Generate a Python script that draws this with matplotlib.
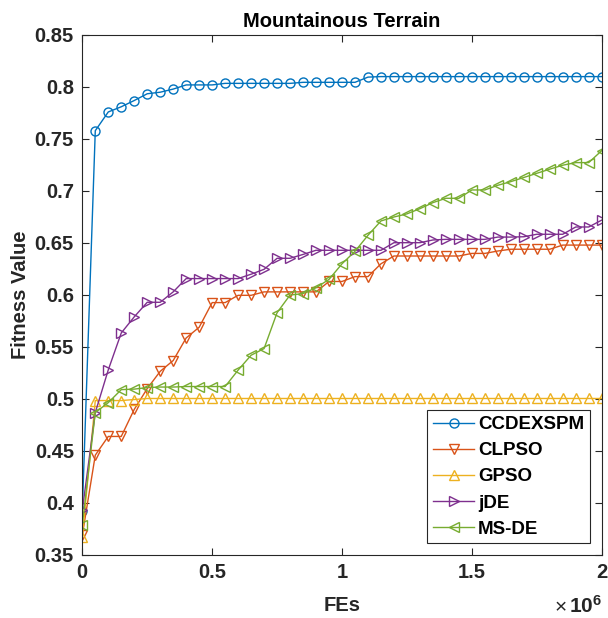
import numpy as np
import matplotlib
matplotlib.use("Agg")
import matplotlib.pyplot as plt
from matplotlib.ticker import FixedLocator, FixedFormatter

plt.rcParams['font.family'] = ['Liberation Sans', 'DejaVu Sans']
plt.rcParams['font.weight'] = 'bold'
plt.rcParams['mathtext.fontset'] = 'custom'
plt.rcParams['mathtext.rm'] = 'Liberation Sans'
plt.rcParams['mathtext.bf'] = 'Liberation Sans:bold'

# ---------------- data ----------------
fes = np.arange(41) * 50000

ccdexspm = [0.392, 0.758, 0.776, 0.781, 0.787, 0.7935, 0.795, 0.798, 0.802, 0.802,
            0.802, 0.8035, 0.8035, 0.8035, 0.8035, 0.8035, 0.8035, 0.8045, 0.8045, 0.8045,
            0.8045, 0.8045, 0.8095, 0.810, 0.810, 0.810, 0.810, 0.810, 0.810, 0.810,
            0.810, 0.810, 0.810, 0.810, 0.810, 0.810, 0.810, 0.810, 0.810, 0.810, 0.810]

clpso = [0.369, 0.446, 0.464, 0.464, 0.490, 0.510, 0.5266, 0.537, 0.5587, 0.569,
         0.5927, 0.5927, 0.5997, 0.5997, 0.603, 0.603, 0.603, 0.603, 0.603, 0.613,
         0.613, 0.6177, 0.6177, 0.630, 0.6375, 0.6375, 0.6375, 0.6375, 0.6375, 0.6375,
         0.640, 0.640, 0.6423, 0.644, 0.644, 0.644, 0.644, 0.648, 0.648, 0.648, 0.648]

gpso = [0.367, 0.4985, 0.4985, 0.4985, 0.4995] + [0.5005] * 36

jde = [0.393, 0.487, 0.528, 0.5635, 0.579, 0.593, 0.593, 0.603, 0.6158, 0.6158,
       0.6158, 0.6158, 0.6158, 0.620, 0.6247, 0.6353, 0.6353, 0.639, 0.643, 0.643,
       0.643, 0.643, 0.643, 0.643, 0.6503, 0.6503, 0.6503, 0.6529, 0.6535, 0.6535,
       0.6535, 0.6535, 0.6557, 0.6557, 0.656, 0.6584, 0.6584, 0.6584, 0.6654, 0.6654, 0.672]

msde = [0.379, 0.487, 0.4965, 0.509, 0.5095, 0.511, 0.5115, 0.5115, 0.512, 0.512,
        0.512, 0.512, 0.5278, 0.5421, 0.5485, 0.583, 0.600, 0.6013, 0.607, 0.615,
        0.630, 0.642, 0.6574, 0.6712, 0.675, 0.678, 0.683, 0.6888, 0.693, 0.693,
        0.701, 0.701, 0.7055, 0.709, 0.713, 0.717, 0.721, 0.7248, 0.7273, 0.7273, 0.7388]

series_names = ['CCDEXSPM', 'CLPSO', 'GPSO', 'jDE', 'MS-DE']
series_values = [ccdexspm, clpso, gpso, jde, msde]
colors = ['#0072BD', '#D95319', '#EDB120', '#7E2F8E', '#77AC30']
markers = ['o', 'v', '^', '>', '<']

xticks = [0, 500000, 1000000, 1500000, 2000000]
xtick_labels = ['0', '0.5', '1', '1.5', '2']
yticks = [0.35, 0.4, 0.45, 0.5, 0.55, 0.6, 0.65, 0.7, 0.75, 0.8, 0.85]
ytick_labels = ['0.35', '0.4', '0.45', '0.5', '0.55', '0.6', '0.65', '0.7', '0.75', '0.8', '0.85']

# ---------------- figure ----------------
W, H = 608, 618
fig = plt.figure(figsize=(W / 100, H / 100), dpi=100)
L, R, T, B = 82.3, 601.7, 35, 555
ax = fig.add_axes([L / W, 1 - B / H, (R - L) / W, (B - T) / H])

for name, vals, c, m in zip(series_names, series_values, colors, markers):
    ax.plot(fes, vals, color=c, marker=m, markersize=6.5, markerfacecolor='none',
            markeredgewidth=1.0, linewidth=1.0, label=name)

ax.set_xlim(0, 2000000)
ax.set_ylim(0.35, 0.85)
ax.xaxis.set_major_locator(FixedLocator(xticks))
ax.xaxis.set_major_formatter(FixedFormatter(xtick_labels))
ax.yaxis.set_major_locator(FixedLocator(yticks))
ax.yaxis.set_major_formatter(FixedFormatter(ytick_labels))

tc = '#262626'
FS = 14.5
ax.tick_params(axis='both', direction='in', length=5, width=0.8, colors=tc,
               labelsize=FS, top=True, right=True)
ax.tick_params(axis='x', pad=6)
ax.tick_params(axis='y', pad=6)
for lab in ax.get_xticklabels() + ax.get_yticklabels():
    lab.set_fontweight('bold')
for s in ax.spines.values():
    s.set_color(tc)
    s.set_linewidth(0.8)

ax.set_title('Mountainous Terrain', fontsize=FS, fontweight='bold', pad=6, color='black')
ax.set_xlabel('FEs', fontsize=FS, fontweight='bold', color=tc)
ax.set_ylabel('Fitness Value', fontsize=FS, fontweight='bold', color=tc)
ax.xaxis.set_label_coords((342 - L) / (R - L), -(596 - B) / (B - T))
ax.xaxis.label.set_va('top')
ax.yaxis.set_label_coords(-(82.3 - 30) / (R - L), 0.5)

# x10^6 multiplier: thin "x", bold "10" with superscript 6
bottom_y = 1 - 617 / H
t10 = fig.text(R / W, bottom_y, r'$\mathbf{10^{6}}$', ha='right', va='bottom',
               fontsize=15, color=tc)
fig.canvas.draw()
bb = t10.get_window_extent()
fig.text((bb.x0 - 2) / W, bottom_y, '\u00d7', ha='right', va='bottom',
         fontsize=15, fontweight='normal', color=tc)

leg = ax.legend(loc='lower right', bbox_to_anchor=(0.977, 0.0225), borderaxespad=0,
                prop={'weight': 'bold', 'size': 13.5}, frameon=True, fancybox=False,
                edgecolor='#262626', framealpha=1, handlelength=2.2, handletextpad=0.2,
                labelspacing=0.48, borderpad=0.3, numpoints=1)
leg.get_frame().set_linewidth(0.8)

fig.savefig('out.png', dpi=100)
